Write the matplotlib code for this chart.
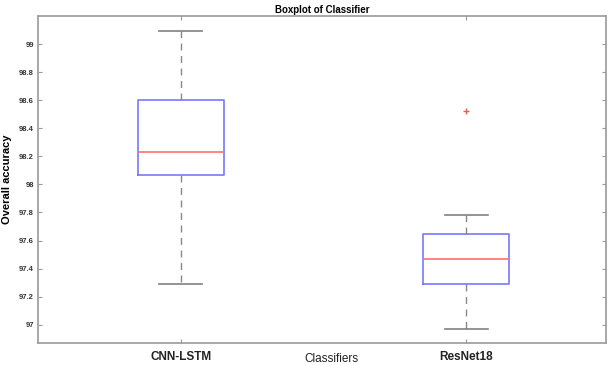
import matplotlib
matplotlib.use("Agg")
import matplotlib.pyplot as plt

# summary stats
classifiers = ["CNN-LSTM", "ResNet18"]
whislo = [97.29, 96.97]
q1 = [98.07, 97.29]
med = [98.23, 97.47]
q3 = [98.60, 97.65]
whishi = [99.09, 97.78]
fliers = [[], [98.52]]

yticks = [97, 97.2, 97.4, 97.6, 97.8, 98, 98.2, 98.4, 98.6, 98.8, 99]
yticklabels = ["97", "97.2", "97.4", "97.6", "97.8", "98", "98.2", "98.4", "98.6", "98.8", "99"]

plt.rcParams["font.family"] = ["Liberation Sans", "DejaVu Sans"]

stats = []
for i, name in enumerate(classifiers):
    stats.append(dict(label=name, whislo=whislo[i], q1=q1[i], med=med[i],
                      q3=q3[i], whishi=whishi[i], fliers=fliers[i]))

fig = plt.figure(figsize=(6.11, 3.65), dpi=100)
ax = fig.add_axes([38 / 611, 22 / 365, 568 / 611, 327 / 365])

ax.bxp(stats, positions=[1, 2], widths=0.3,
       boxprops=dict(color="#7878ff", linewidth=1.2),
       medianprops=dict(color="#ff7070", linewidth=1.2),
       whiskerprops=dict(color="#888888", linestyle=(0, (5, 4)), linewidth=1),
       capprops=dict(color="#808080", linewidth=1.2),
       flierprops=dict(marker="+", markeredgecolor="#e06060", markersize=4,
                       linestyle="none"),
       capwidths=0.15)

ax.set_xlim(0.5, 2.49)
ax.set_ylim(96.87, 99.2)
ax.set_yticks(yticks)
ax.set_yticklabels(yticklabels, fontsize=5.5, fontweight="bold", color="#333333")
ax.set_xticks([1, 2])
ax.set_xticklabels(classifiers, fontsize=8.5, fontweight="bold", color="#222222")
ax.tick_params(axis="both", direction="in", length=3, color="#999999",
               top=True, right=True, pad=3)
ax.tick_params(axis="x", pad=6)
for s in ax.spines.values():
    s.set_color("#9a9a9a")
    s.set_linewidth(1.2)

ax.set_title("Boxplot of Classifier", fontsize=7, fontweight="bold", pad=2)
ax.set_ylabel("Overall accuracy", fontsize=8, fontweight="bold")
ax.yaxis.set_label_coords(-0.045, 0.5)
ax.set_xlabel("Classifiers", fontsize=8.5, color="#222222")
ax.xaxis.set_label_coords(0.517, -0.03)

fig.savefig("out.png", dpi=100)
